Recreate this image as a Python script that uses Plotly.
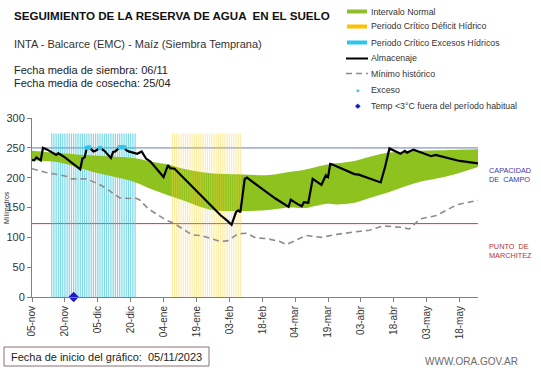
import plotly.graph_objects as go
import pandas as pd

# ---------------- data ----------------
START = "2023-11-05"
END = "2024-05-26 09:00"

TICK_LABELS = ["05-nov", "20-nov", "05-dic", "20-dic", "04-ene", "19-ene", "03-feb",
               "18-feb", "04-mar", "19-mar", "03-abr", "18-abr", "03-may", "18-may"]
TICK_STEP_DAYS = 15

# Almacenaje (mm), day offsets from START
alm_days = [0, 1, 2, 3, 4, 5, 7, 11, 12, 15, 22, 23, 24, 25, 26, 28, 29, 31, 33, 36, 37, 38,
            40, 42, 43, 44, 46, 48, 50, 52, 54, 60, 62, 63, 65, 71, 77, 83, 86, 89, 91, 93,
            94, 95, 97, 98, 105, 111, 117, 118, 121, 123, 124, 126, 128, 132, 134, 135, 136,
            137, 147, 149, 159, 161, 163, 168, 170, 171, 174, 182, 184, 195, 203.4]
alm_vals = [230, 229, 234, 231, 229, 250, 247, 238, 241, 234, 214, 232, 234, 250, 251, 244,
            245, 250, 245, 233, 243, 244, 251, 251, 246, 244, 242, 240, 244, 232, 227, 201,
            221, 216, 215, 193, 170, 148, 137, 128, 121, 142, 145, 142, 198, 200, 181, 165,
            151, 163, 156, 152, 159, 158, 198, 188, 204, 201, 223, 222, 206, 205, 192, 218,
            249, 240, 245, 242, 247, 236, 238, 228, 224]

# Intervalo normal (upper / lower limits)
band_days = [0, 13, 28, 47, 54, 62, 70, 77, 83, 96, 108, 118, 124, 134, 139, 147, 154, 163,
             170, 177, 185, 192, 203.4]
band_upper = [245, 241, 237, 232.5, 227, 222, 214, 209.5, 207, 205.5, 204.5, 210, 213, 221.5,
              224, 228, 235, 242, 244, 245, 246, 246.5, 247.5]
band_lower = [229, 225, 209.5, 192.5, 181.5, 170.5, 160.5, 151, 145.5, 144, 146, 150, 149,
              156, 155, 158, 166, 176, 185, 193, 199, 205, 218]

# Mínimo histórico
min_days = [0, 6, 12, 16, 18, 25, 31, 33, 40, 44, 47, 49, 53, 61, 65, 73, 77, 86, 89, 94,
            98, 102, 107, 111, 113, 116, 120, 125, 132, 139, 147, 154, 160, 168, 172, 177,
            184, 189, 194, 203.4]
min_vals = [215, 209, 205, 202, 198, 198, 188, 184, 166, 165, 166, 163, 148, 129, 123, 104,
            103, 93, 94, 106, 107, 99, 98, 95, 93, 88, 95, 103, 100, 105, 109, 112, 119, 117,
            114, 131, 136, 145, 155, 162]

# Exceso points
exc_days = [25, 26, 31, 40, 41, 42]
exc_vals = [250, 251, 250, 251, 251, 251]

# Temp < 3°C
temp_days = [19]
temp_vals = [0]

# Critical periods (first / last day offsets) and stripe height
EXCESS_PERIOD = (9, 47)
DEFICIT_PERIOD = (64, 95)
STRIPE_TOP = 274

CAPACIDAD = 250
MARCHITEZ = 123

# ---------------- helpers ----------------
base = pd.Timestamp(START)


def to_dates(days):
    return [base + pd.Timedelta(days=d) for d in days]


def stripes(period):
    xs, ys = [], []
    for d in range(period[0], period[1] + 1):
        t = base + pd.Timedelta(days=d)
        xs += [t, t, None]
        ys += [0, STRIPE_TOP, None]
    return xs, ys


W, H = 541, 368
ML, MR, MT, MB = 32, 63, 118, 71
PW, PH = W - ML - MR, H - MT - MB


def px(x):
    return (x - ML) / PW


def py(y):
    return (H - MB - y) / PH


FONT = "Liberation Sans, Arial, sans-serif"

GREEN = "#8dc21f"
CYAN = "#2ec4ec"
YELLOW = "#ffc000"

fig = go.Figure()

# cyan stripes (behind band)
sx, sy = stripes(EXCESS_PERIOD)
fig.add_trace(go.Scatter(x=sx, y=sy, mode="lines",
                         line=dict(color="rgba(70,198,224,0.7)", width=1.2),
                         hoverinfo="skip", showlegend=False))

# normal band
fig.add_trace(go.Scatter(x=to_dates(band_days), y=band_lower, mode="lines",
                         line=dict(width=0, color=GREEN, shape="spline"), showlegend=False,
                         hoverinfo="skip"))
fig.add_trace(go.Scatter(x=to_dates(band_days), y=band_upper, mode="lines", fill="tonexty",
                         fillcolor=GREEN, line=dict(width=0, color=GREEN, shape="spline"),
                         showlegend=False, hoverinfo="skip"))

# yellow stripes (in front of band)
sx, sy = stripes(DEFICIT_PERIOD)
fig.add_trace(go.Scatter(x=sx, y=sy, mode="lines",
                         line=dict(color="rgba(248,212,60,0.45)", width=1.2),
                         hoverinfo="skip", showlegend=False))

# mínimo histórico
fig.add_trace(go.Scatter(x=to_dates(min_days), y=min_vals, mode="lines",
                         line=dict(color="#8c8c8c", width=1.6, dash="6px,4px"),
                         showlegend=False))

# almacenaje
fig.add_trace(go.Scatter(x=to_dates(alm_days), y=alm_vals, mode="lines",
                         line=dict(color="black", width=2.2), showlegend=False))

# exceso
fig.add_trace(go.Scatter(x=to_dates(exc_days), y=exc_vals, mode="markers",
                         marker=dict(color=CYAN, size=4, symbol="square"), showlegend=False))

# temp
fig.add_trace(go.Scatter(x=to_dates(temp_days), y=temp_vals, mode="markers",
                         marker=dict(color="#1a1acc", size=8, symbol="diamond"),
                         showlegend=False, cliponaxis=False))

tickvals = [base + pd.Timedelta(days=TICK_STEP_DAYS * i) for i in range(len(TICK_LABELS))]

shapes = [
    dict(type="line", xref="paper", yref="y", x0=0, x1=1, y0=CAPACIDAD, y1=CAPACIDAD,
         line=dict(color="#a7b6d4", width=1.6), layer="below"),
    dict(type="line", xref="paper", yref="y", x0=0, x1=1, y0=MARCHITEZ, y1=MARCHITEZ,
         line=dict(color="#c83c3c", width=1), layer="below"),
]

annotations = []


def text(x, y, s, size, color="#222", bold=False, anchor="left", family=FONT, angle=0):
    annotations.append(dict(xref="paper", yref="paper", x=px(x), y=py(y),
                            text=("<b>%s</b>" % s) if bold else s,
                            showarrow=False, xanchor=anchor, yanchor="middle", textangle=angle,
                            font=dict(size=size, color=color, family=family)))


text(12, 15, "SEGUIMIENTO DE LA RESERVA DE AGUA  EN EL SUELO", 11.6, "#111", bold=True)
text(12, 44, "INTA - Balcarce (EMC) - Maíz (Siembra Temprana)", 11, "#333")
text(12, 70, "Fecha media de siembra: 06/11", 11, "#222")
text(12, 82.5, "Fecha media de cosecha: 25/04", 11, "#222")

# legend (manual)
LX0, LX1, LT = 347, 367, 369
leg_y = [11.5, 26.5, 42.5, 58.5, 73.5, 90, 106]
leg_txt = ["Intervalo Normal", "Periodo Crítico Déficit Hídrico", "Periodo Crítico Excesos Hídricos",
           "Almacenaje", "Mínimo histórico", "Exceso", "Temp <3°C fuera del período habitual"]
for yy, c in zip(leg_y[:3], ["#8fbf2a", YELLOW, CYAN]):
    shapes.append(dict(type="rect", xref="paper", yref="paper", x0=px(LX0), x1=px(LX1),
                       y0=py(yy + 2), y1=py(yy - 2), fillcolor=c, line=dict(width=0)))
shapes.append(dict(type="line", xref="paper", yref="paper", x0=px(346), x1=px(368),
                   y0=py(leg_y[3]), y1=py(leg_y[3]), line=dict(color="black", width=2)))
shapes.append(dict(type="line", xref="paper", yref="paper", x0=px(346), x1=px(368),
                   y0=py(leg_y[4]), y1=py(leg_y[4]),
                   line=dict(color="#8c8c8c", width=1.5, dash="6px,4px")))
for i, t in enumerate(leg_txt):
    text(LT, leg_y[i], t, 8.8, "#333")
annotations.append(dict(xref="paper", yref="paper", x=px(357.5), y=py(90), text="■", showarrow=False,
                        font=dict(size=5, color=CYAN, family=FONT), xanchor="center", yanchor="middle"))
annotations.append(dict(xref="paper", yref="paper", x=px(357.5), y=py(106), text="◆", showarrow=False,
                        font=dict(size=7, color="#1a1acc", family="DejaVu Sans"),
                        xanchor="center", yanchor="middle"))

# right labels
annotations.append(dict(xref="paper", yref="paper", x=px(487), y=py(175), text="CAPACIDAD<br>DE  CAMPO",
                        showarrow=False, xanchor="left", yanchor="middle", align="left",
                        font=dict(size=7.3, color="#3a3aa8", family=FONT)))
annotations.append(dict(xref="paper", yref="paper", x=px(487), y=py(251), text="PUNTO  DE<br>MARCHITEZ",
                        showarrow=False, xanchor="left", yanchor="middle", align="left",
                        font=dict(size=7.3, color="#b83232", family=FONT)))

# y title
text(6, 208, "Milímetros", 7, "#333", anchor="center", angle=-90)

# bottom
shapes.append(dict(type="rect", xref="paper", yref="paper", x0=px(4), x1=px(209), y0=py(366), y1=py(347),
                   line=dict(color="#8a7070", width=1), fillcolor="rgba(0,0,0,0)"))
text(9, 356.5, "Fecha de inicio del gráfico:  05/11/2023", 11, "#222")
text(423, 361, "WWW.ORA.GOV.AR", 10, "#6a6a6a")

fig.update_layout(
    width=W, height=H, margin=dict(l=ML, r=MR, t=MT, b=MB, pad=0, autoexpand=False),
    paper_bgcolor="white", plot_bgcolor="white",
    showlegend=False, shapes=shapes, annotations=annotations,
    font=dict(family=FONT, color="#333"),
    xaxis=dict(type="date", range=[START, END], tickvals=tickvals, ticktext=TICK_LABELS,
               tickangle=-90, tickfont=dict(size=10, color="#333", family=FONT),
               showgrid=False, zeroline=False, showline=True, linecolor="#808080", linewidth=1,
               ticks="outside", ticklen=4, tickcolor="#808080", automargin=False),
    yaxis=dict(range=[0, 300], tickvals=[0, 50, 100, 150, 200, 250, 300],
               tickfont=dict(size=11, color="#333", family=FONT),
               showgrid=False, zeroline=False, showline=True, linecolor="#808080", linewidth=1,
               ticks="outside", ticklen=4, tickcolor="#808080", automargin=False),
)

fig.write_html("out.html", config={"displayModeBar": False},
               post_script="document.body.style.margin='0px';")
